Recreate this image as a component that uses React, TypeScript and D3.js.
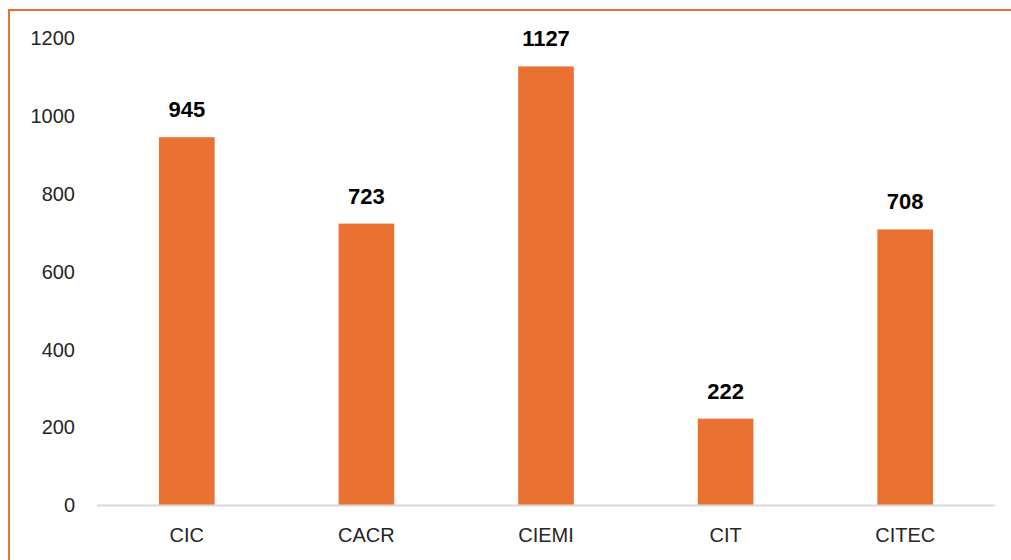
import React from "react";
import * as d3 from "d3";

const categories = ["CIC", "CACR", "CIEMI", "CIT", "CITEC"];
const values = [945, 723, 1127, 222, 708];
const yTicks = [0, 200, 400, 600, 800, 1000, 1200];

export default function App() {
  const W = 1011, H = 560;
  const left = 97, right = 995, top = 38, bottom = 505;
  const x = d3.scaleBand<string>().domain(categories).range([left, right]).paddingInner(0.69).paddingOuter(0.345);
  const y = d3.scaleLinear().domain([0, 1200]).range([bottom, top]);
  const color = "#E97132";
  const font = "Liberation Sans, Arial, sans-serif";
  return (
    <svg width={W} height={H} style={{ position: "absolute", left: 0, top: 0 }}>
      <rect x={0} y={0} width={W} height={H} fill="#fff" />
      <rect x={9} y={10} width={1100} height={700} fill="none" stroke={color} strokeWidth={2} />
      {yTicks.map((t) => (
        <text key={t} x={75} y={y(t)} dy="0.36em" textAnchor="end" fontFamily={font} fontSize={20} fill="#262626">
          {t}
        </text>
      ))}
      {categories.map((c, i) => (
        <g key={c}>
          <rect x={x(c)} y={y(values[i])} width={x.bandwidth()} height={bottom - y(values[i])} fill={color} />
          <text x={x(c)! + x.bandwidth() / 2} y={y(values[i]) - 20} textAnchor="middle" fontFamily={font} fontSize={22} fontWeight="bold" fill="#000">
            {values[i]}
          </text>
          <text x={x(c)! + x.bandwidth() / 2} y={542} textAnchor="middle" fontFamily={font} fontSize={20} fill="#262626">
            {c}
          </text>
        </g>
      ))}
      <line x1={left} x2={right} y1={bottom + 0.5} y2={bottom + 0.5} stroke="#d9d9d9" strokeWidth={2} />
    </svg>
  );
}
